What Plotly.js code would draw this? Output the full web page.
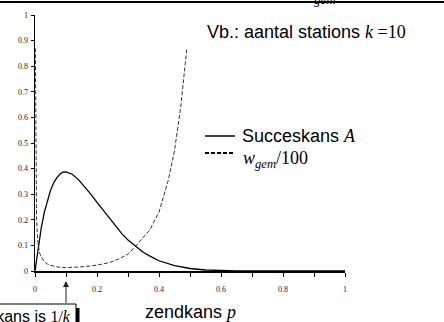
<!DOCTYPE html>
<html>
<head>
<meta charset="utf-8">
<script src="https://cdn.plot.ly/plotly-3.0.1.min.js"></script>
<style>
html,body{margin:0;padding:0;background:#fff;}
#wrap{position:relative;width:444px;height:322px;overflow:hidden;}
#chart{width:444px;height:322px;}
#rule{position:absolute;left:0;top:1px;width:444px;height:2px;background:#000;pointer-events:none;}
</style>
</head>
<body>
<div id="wrap"><div id="chart"></div><div id="rule"></div></div>
<script>
// ---- data ----
const pSucces = [0, 0.01, 0.02, 0.03, 0.04, 0.05, 0.06, 0.07, 0.08, 0.09, 0.1, 0.11, 0.12, 0.14, 0.16, 0.18, 0.2, 0.22, 0.25, 0.28, 0.3, 0.323, 0.35, 0.38, 0.4, 0.45, 0.5, 0.55, 0.6, 0.65, 0.7, 0.8, 0.9, 1.0];
const succesA = [0, 0.091, 0.167, 0.229, 0.277, 0.315, 0.344, 0.364, 0.378, 0.386, 0.387, 0.384, 0.378, 0.357, 0.33, 0.30, 0.268, 0.237, 0.188, 0.146, 0.121, 0.097, 0.072, 0.052, 0.040, 0.021, 0.0098, 0.004, 0.0016, 0.0005, 0.0001, 0, 0, 0];
const pWacht = [0.0012, 0.002, 0.003, 0.005, 0.0075, 0.01, 0.015, 0.02, 0.03, 0.04, 0.05, 0.07, 0.1, 0.13, 0.16, 0.2, 0.24, 0.27, 0.3, 0.323, 0.35, 0.37, 0.4, 0.43, 0.45, 0.47, 0.49];
const wGem100 = [0.87, 0.52, 0.35, 0.21, 0.14, 0.105, 0.07, 0.055, 0.037, 0.027, 0.022, 0.016, 0.013, 0.014, 0.017, 0.023, 0.033, 0.047, 0.066, 0.095, 0.13, 0.16, 0.23, 0.355, 0.47, 0.64, 0.87];
const xTickVals = [0, 0.1, 0.2, 0.3, 0.4, 0.5, 0.6, 0.7, 0.8, 0.9, 1];
const xTickText = ['0', '', '0.2', '', '0.4', '', '0.6', '', '0.8', '', '1'];
const yTickVals = [0, 0.1, 0.2, 0.3, 0.4, 0.5, 0.6, 0.7, 0.8, 0.9, 1];
const yTickText = ['0', '0.1', '0.2', '0.3', '0.4', '0.5', '0.6', '0.7', '0.8', '0.9', '1'];
const seriesNames = ['Succeskans A', 'w_gem/100'];

// ---- layout helpers (pixel -> paper) ----
const L = 35, R = 99, T = 15, B = 51, W = 444, H = 322;
const PW = W - L - R, PH = H - T - B;
const px = v => (v - L) / PW;
const py = v => (H - B - v) / PH;
const SANS = 'Liberation Sans, Arial, sans-serif';
const SERIF = 'Liberation Serif, Times New Roman, serif';
const serif = s => '<span style="font-family:' + SERIF + '">' + s + '</span>';

const traces = [
  {x: pSucces, y: succesA, name: seriesNames[0], type: 'scatter', mode: 'lines',
   line: {color: '#000', width: 1.3}, hoverinfo: 'skip'},
  {x: pWacht, y: wGem100, name: seriesNames[1], type: 'scatter', mode: 'lines',
   line: {color: '#333', width: 1, dash: '4px,2px'}, hoverinfo: 'skip'}
];

const tickFont = {family: SERIF, size: 8, color: '#222'};
const layout = {
  width: W, height: H,
  margin: {l: L, r: R, t: T, b: B, pad: 0},
  paper_bgcolor: '#fff', plot_bgcolor: '#fff',
  showlegend: false,
  xaxis: {range: [0, 1], tickvals: xTickVals, ticktext: xTickText, ticks: 'outside', ticklen: 4,
          tickwidth: 1, tickcolor: '#000', showline: true, linecolor: '#000', linewidth: 1.5,
          showgrid: false, zeroline: false, tickfont: tickFont, ticklabelstandoff: 6, fixedrange: true},
  yaxis: {range: [0, 1], tickvals: yTickVals, ticktext: yTickText, ticks: 'outside', ticklen: 3,
          tickwidth: 1, tickcolor: '#000', showline: true, linecolor: '#000', linewidth: 1.5,
          showgrid: false, zeroline: false, tickfont: tickFont, ticklabelstandoff: 1, fixedrange: true},
  xaxis2: {range: [0, 1], overlaying: 'x', anchor: 'y', side: 'bottom', tickvals: xTickVals,
           ticks: 'inside', ticklen: 4, tickwidth: 1, tickcolor: '#000', showticklabels: false,
           showline: false, showgrid: false, zeroline: false, fixedrange: true},
  yaxis2: {range: [0, 1], overlaying: 'y', anchor: 'x', side: 'left', tickvals: yTickVals,
           ticks: 'inside', ticklen: 4, tickwidth: 1, tickcolor: '#000', showticklabels: false,
           showline: false, showgrid: false, zeroline: false, fixedrange: true},
  shapes: [
    // legend samples
    {type: 'line', xref: 'paper', yref: 'paper', x0: px(205), x1: px(235), y0: py(136), y1: py(136),
     line: {color: '#000', width: 1.5}},
    {type: 'line', xref: 'paper', yref: 'paper', x0: px(205), x1: px(235), y0: py(153), y1: py(153),
     line: {color: '#000', width: 1.8, dash: '4px,2px'}},
    // callout box + shadow
    {type: 'rect', xref: 'paper', yref: 'paper', x0: px(-20), x1: px(76), y0: py(304), y1: py(345),
     line: {color: '#000', width: 1}, fillcolor: '#fff'},
    {type: 'rect', xref: 'paper', yref: 'paper', x0: px(76), x1: px(79.5), y0: py(308), y1: py(345),
     line: {width: 0}, fillcolor: '#000'}
  ],
  annotations: [
    {xref: 'paper', yref: 'paper', x: px(205), y: py(32), xanchor: 'left', yanchor: 'middle', showarrow: false,
     text: 'Vb.: aantal stations ' + serif('<i>k</i> =10'), font: {family: SANS, size: 18, color: '#000'}},
    {xref: 'paper', yref: 'paper', x: px(240), y: py(136), xanchor: 'left', yanchor: 'middle', showarrow: false,
     text: 'Succeskans ' + serif('<i>A</i>'), font: {family: SANS, size: 18, color: '#000'}},
    {xref: 'paper', yref: 'paper', x: px(241), y: py(159), xanchor: 'left', yanchor: 'middle', showarrow: false,
     text: '<i>w</i><sub><i>gem</i></sub>/100', font: {family: SERIF, size: 18, color: '#000'}},
    {xref: 'paper', yref: 'paper', x: px(190), y: py(312), xanchor: 'center', yanchor: 'middle', showarrow: false,
     text: 'zendkans ' + serif('<i>p</i>'), font: {family: SANS, size: 18, color: '#000'}},
    {xref: 'paper', yref: 'paper', x: px(73), y: py(316), xanchor: 'right', yanchor: 'middle', showarrow: false,
     text: 'Optimale zendkans is ' + serif('1/<i>k</i>'), font: {family: SANS, size: 16, color: '#000'}},
    {xref: 'paper', yref: 'paper', x: px(325), y: py(-1), xanchor: 'center', yanchor: 'middle', showarrow: false,
     text: '<i>gem</i>', font: {family: SERIF, size: 13, color: '#000'}},
    // arrow to p = 1/k
    {xref: 'x', yref: 'paper', x: 0.1, y: py(281), ax: 0, ay: 24, axref: 'pixel', ayref: 'pixel',
     text: ' ', font: {size: 1}, showarrow: true, arrowhead: 2, arrowsize: 1.2, arrowwidth: 1,
     arrowcolor: '#222', standoff: 0, startstandoff: 0}
  ]
};

Plotly.newPlot('chart', traces, layout, {staticPlot: true, displayModeBar: false});
</script>
</body>
</html>
